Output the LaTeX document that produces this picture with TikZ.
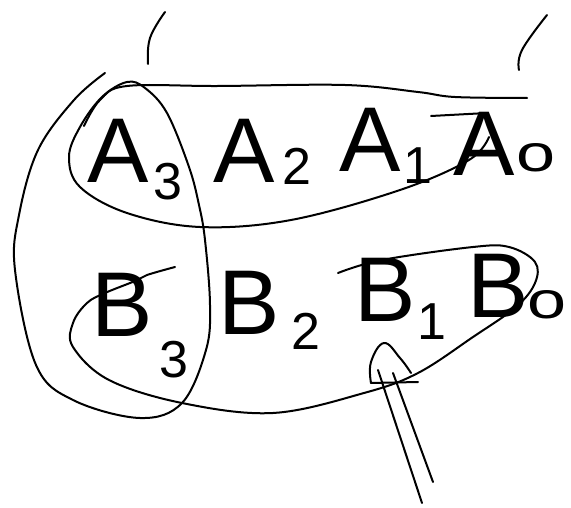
\documentclass[tikz,border=0pt]{standalone}
\usepackage{fontspec}
\setmainfont{Liberation Sans}
\begin{document}
\begin{tikzpicture}[x=1pt,y=-1pt,
  sketch/.style={line width=2pt,line cap=round,line join=round,black},
  letter/.style={inner sep=0pt,font=\fontsize{92}{92}\selectfont},
  idx/.style={inner sep=0pt,font=\fontsize{52}{52}\selectfont}]
\useasboundingbox[fill=white] (0,0) rectangle (571,508);
% letters
\node[letter] (a3) at (118,151) {A};
\node[idx] (a3s) at (168,182) {3};
\node[letter] (a2) at (244,151) {A};
\node[idx] (a2s) at (297,166) {2};
\node[letter] (a1) at (370,140) {A};
\node[idx] (a1s) at (418,166) {1};
\node[letter] (a0) at (484,144) {A};
\node[idx] (a0s) at (536,158) {\scalebox{1.35}[1]{o}};
\node[letter] (b3) at (122,305) {B};
\node[idx] (b3s) at (174,360) {3};
\node[letter] (b2) at (249,303) {B};
\node[idx] (b2s) at (306,331) {2};
\node[letter] (b1) at (385,290) {B};
\node[idx] (b1s) at (432,322) {1};
\node[letter] (b0) at (498,286) {B};
\node[idx] (b0s) at (547,305) {\scalebox{1.35}[1]{o}};
% ticks
\draw[sketch] plot[smooth,tension=0.7] coordinates {(165,12) (150,38) (148,64)};
\draw[sketch] plot[smooth,tension=0.7] coordinates {(547,15) (522,50) (519,70)};
% vertical loop around A3/B3 continuing into A-row loop
\draw[sketch] plot[smooth,tension=0.6] coordinates {
  (105,73) (74,100) (38,150) (19,215) (15,270) (36,365) (73,400) (140,418)
  (182,403) (206,350) (210,305) (205,240) (199,205) (189,167) (167,113)
  (145,88) (127,82) (102,97) (80,127) (69,157) (80,187) (127,213)
  (200,227) (291,220) (400,190) (469,160) (489,137)};
% top line of A loop
\draw[sketch] plot[smooth,tension=0.6] coordinates {
  (84,126) (100,100) (127,86) (218,86) (345,85) (418,92) (455,97) (527,98)};
\draw[sketch] (431,116) -- (487,113);
% B loop
\draw[sketch] plot[smooth,tension=0.6] coordinates {
  (338,273) (382,260) (473,247) (509,247) (535,262) (535,283) (516,307)
  (473,337) (418,373) (364,393) (273,413) (182,403) (109,380) (73,347)
  (73,323) (87,303) (105,293) (135,281) (147,275) (175,267)};
% arrow
\coordinate (t1) at (422,503);
\coordinate (t2) at (378,370);
\coordinate (u1) at (433,482);
\coordinate (u2) at (393,373);
\coordinate (tip) at (384,343);
\draw[sketch] (t1) -- (t2);
\draw[sketch] (u1) -- (u2);
\draw[sketch] plot[smooth,tension=0.7] coordinates {(371,383) (371,362) (tip) (400,358) (411,373)};
\draw[sketch] (371,383) -- (418,382);
\end{tikzpicture}
\end{document}
